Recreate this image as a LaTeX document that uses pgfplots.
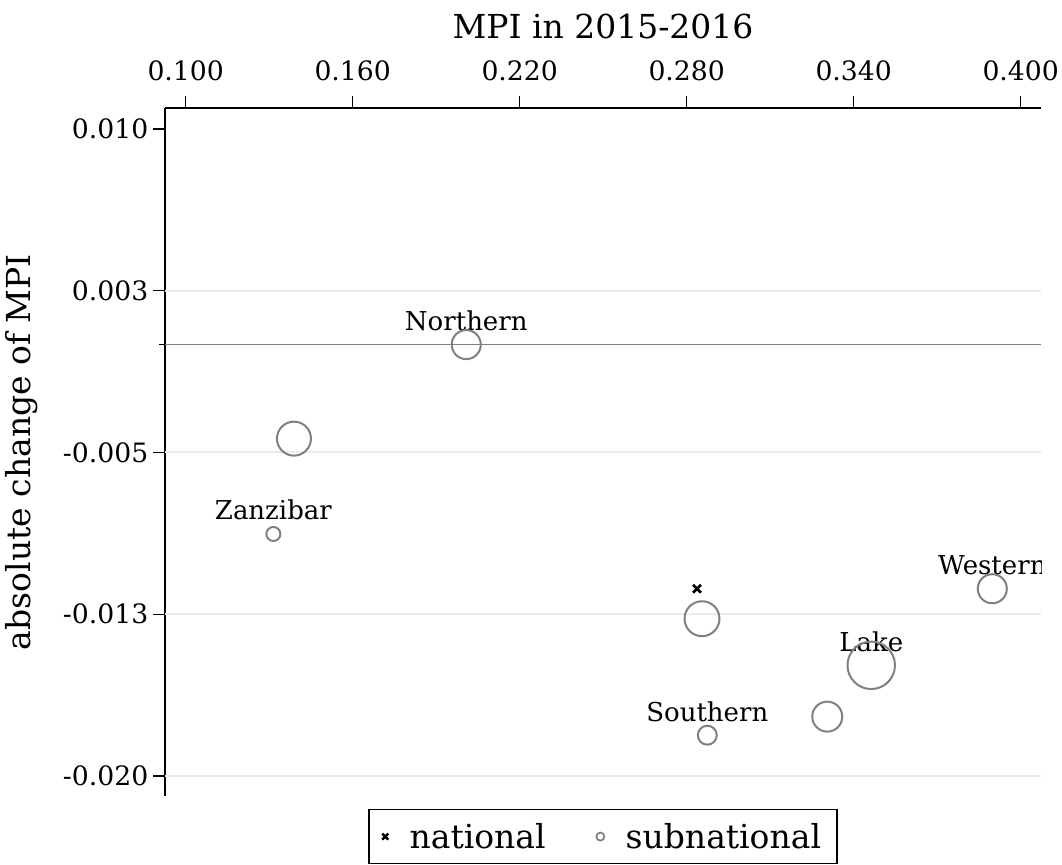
\documentclass[border=0pt]{standalone}
\usepackage{fontspec}
\setmainfont{DejaVu Serif}
\usepackage{pgfplots}
\pgfplotsset{compat=1.18}
\definecolor{gridc}{HTML}{EBEBEB}
\definecolor{circ}{HTML}{808080}
\begin{document}
\begin{tikzpicture}
\path[use as bounding box] (-123.75pt,-51pt) rectangle (672.75pt,597pt);
\begin{axis}[name=ax, at={(0,0)}, anchor=south west,
 scale only axis, width=657pt, height=516pt,
 xmin=0.09256, xmax=0.4073, ymin=-0.02093, ymax=0.01097,
 axis x line=top, axis y line=left,
 axis line style={-, line width=1pt, black},
 tick align=outside, major tick length=9pt,
 every tick/.style={black, line width=1pt},
 scaled x ticks=false, scaled y ticks=false,
 xtick={0.1,0.16,0.22,0.28,0.34,0.4},
 xticklabels={0.100,0.160,0.220,0.280,0.340,0.400},
 ytick={-0.02,-0.0125,-0.005,0.0025,0.01},
 yticklabels={-0.020,-0.013,-0.005,0.003,0.010},
 extra y ticks={0}, extra y tick labels={},
 extra y tick style={major tick length=4.5pt},
 ticklabel style={font=\fontsize{20}{24}\selectfont},
 xticklabel style={yshift=7.5pt},
 legend columns=2,
 legend style={at={(0.5,0)}, anchor=north, yshift=-9.75pt,
   draw=black, line width=1.1pt, font=\fontsize{24.75}{29}\selectfont,
   inner xsep=10pt, inner ysep=8pt,
   /tikz/every odd column/.append style={column sep=14pt},
   /tikz/every even column/.append style={column sep=36pt}},
 legend cell align=left,
]
\addlegendimage{only marks, mark=x, black, mark size=3.2pt, line width=1.8pt}
\addlegendentry{national}
\addlegendimage{only marks, mark=o, circ, mark size=3pt, line width=1.3pt}
\addlegendentry{subnational}

% grid lines
\addplot[gridc, line width=1.5pt, forget plot] coordinates {(0.09256,-0.02) (0.4073,-0.02)};
\addplot[gridc, line width=1.5pt, forget plot] coordinates {(0.09256,-0.0125) (0.4073,-0.0125)};
\addplot[gridc, line width=1.5pt, forget plot] coordinates {(0.09256,-0.005) (0.4073,-0.005)};
\addplot[gridc, line width=1.5pt, forget plot] coordinates {(0.09256,0.0025) (0.4073,0.0025)};
% zero line
\addplot[circ, line width=0.75pt, forget plot] coordinates {(0.09256,0) (0.4073,0)};

% subnational circles
\addplot[only marks, mark=o, circ, mark size=10.9pt, line width=1.5pt, forget plot] coordinates {(0.2008,0.0)};
\addplot[only marks, mark=o, circ, mark size=12.75pt, line width=1.5pt, forget plot] coordinates {(0.1389,-0.00436)};
\addplot[only marks, mark=o, circ, mark size=5.25pt, line width=1.5pt, forget plot] coordinates {(0.1315,-0.00878)};
\addplot[only marks, mark=o, circ, mark size=13.1pt, line width=1.5pt, forget plot] coordinates {(0.2855,-0.01271)};
\addplot[only marks, mark=o, circ, mark size=7.1pt, line width=1.5pt, forget plot] coordinates {(0.2874,-0.01811)};
\addplot[only marks, mark=o, circ, mark size=11.25pt, line width=1.5pt, forget plot] coordinates {(0.3305,-0.01725)};
\addplot[only marks, mark=o, circ, mark size=17.8pt, line width=1.5pt, forget plot] coordinates {(0.3463,-0.01487)};
\addplot[only marks, mark=o, circ, mark size=10.9pt, line width=1.5pt, forget plot] coordinates {(0.3898,-0.01132)};
% national
\addplot[only marks, mark=x, black, mark size=4.2pt, line width=2pt, forget plot] coordinates {(0.2837,-0.01132)};

% labels
\begin{scope}[every node/.style={anchor=base, yshift=10.5pt, font=\fontsize{19.5}{23}\selectfont}]
\node at (axis cs:0.2008,0.0) {Northern};
\node at (axis cs:0.1315,-0.00878) {Zanzibar};
\node at (axis cs:0.3898,-0.01132) {Western};
\node at (axis cs:0.3463,-0.01487) {Lake};
\node at (axis cs:0.2874,-0.01811) {Southern};
\end{scope}
\end{axis}
\node[anchor=base, font=\fontsize{24.75}{29}\selectfont] at ([yshift=51.75pt]ax.north) {MPI in 2015-2016};
\node[rotate=90, anchor=center, font=\fontsize{24.75}{29}\selectfont] at ([xshift=-107.25pt]ax.west) {absolute change of MPI};
\end{tikzpicture}
\end{document}
